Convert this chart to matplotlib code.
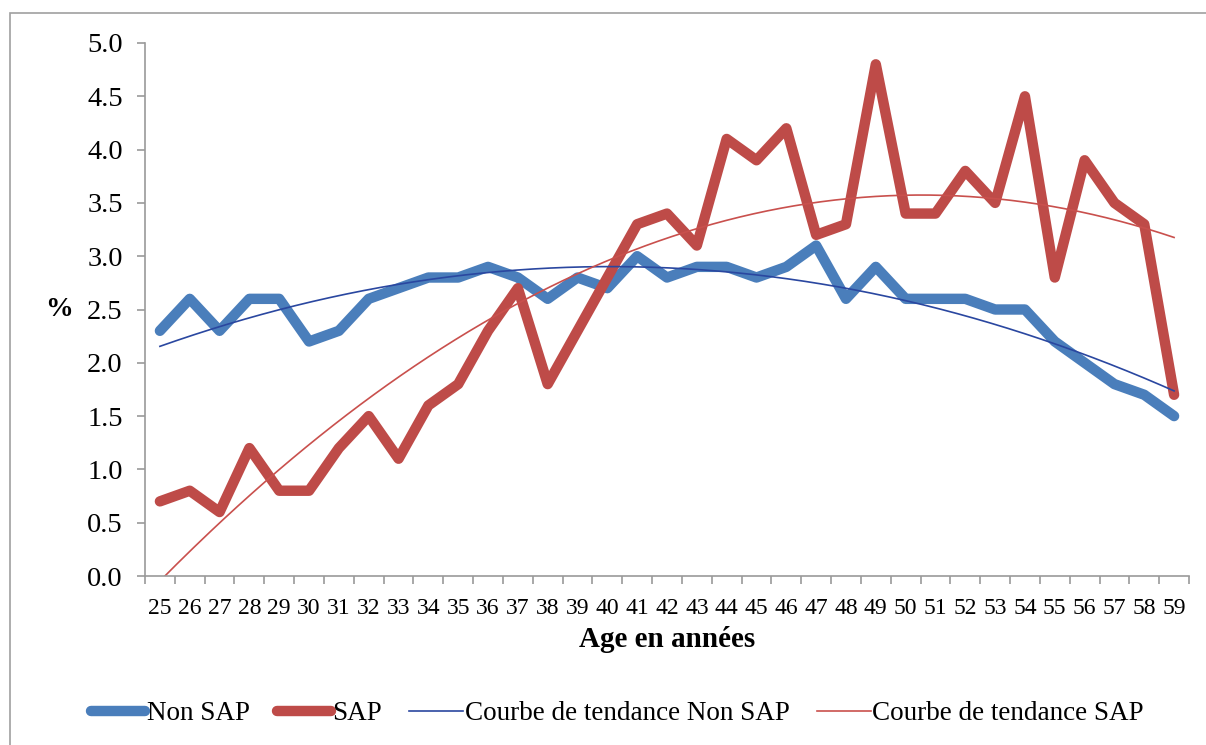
import numpy as np
import matplotlib.pyplot as plt
from matplotlib.patches import Rectangle

ages = list(range(25, 60))
non_sap = [2.3, 2.6, 2.3, 2.6, 2.6, 2.2, 2.3, 2.6, 2.7, 2.8, 2.8, 2.9, 2.8, 2.6, 2.8, 2.7, 3.0, 2.8,
           2.9, 2.9, 2.8, 2.9, 3.1, 2.6, 2.9, 2.6, 2.6, 2.6, 2.5, 2.5, 2.2, 2.0, 1.8, 1.7, 1.5]
sap = [0.7, 0.8, 0.6, 1.2, 0.8, 0.8, 1.2, 1.5, 1.1, 1.6, 1.8, 2.3, 2.7, 1.8, 2.3, 2.8, 3.3, 3.4,
       3.1, 4.1, 3.9, 4.2, 3.2, 3.3, 4.8, 3.4, 3.4, 3.8, 3.5, 4.5, 2.8, 3.9, 3.5, 3.3, 1.7]
y_ticks = [0.0, 0.5, 1.0, 1.5, 2.0, 2.5, 3.0, 3.5, 4.0, 4.5, 5.0]

BLUE = "#4A7EBB"
RED = "#BE4B48"
TREND_BLUE = "#2A47A0"
TREND_RED = "#C9504D"
AXIS_GREY = "#9A9A9A"

plt.rcParams["font.family"] = ["Liberation Serif", "DejaVu Serif"]

fig = plt.figure(figsize=(12.06, 7.45), dpi=100)
fig.patches.append(Rectangle((10 / 1206, -0.1), 1.2, 0.1 + 1 - 13 / 745, transform=fig.transFigure,
                             fill=False, edgecolor="#A0A0A0", linewidth=1.2))
ax = fig.add_axes([145 / 1206, 1 - 576 / 745, 1044 / 1206, 533 / 745])

x = np.arange(len(ages))
xs = np.linspace(0, len(ages) - 1, 300)
# second-order trend lines, as in the spreadsheet
fit_non = np.polyval(np.polyfit(x, non_sap, 2), xs)
fit_sap = np.polyval(np.polyfit(x, sap, 2), xs)

l1, = ax.plot(x, non_sap, color=BLUE, linewidth=7.5, solid_capstyle="round", solid_joinstyle="round")
l2, = ax.plot(x, sap, color=RED, linewidth=7.5, solid_capstyle="round", solid_joinstyle="round")
l3, = ax.plot(xs, fit_non, color=TREND_BLUE, linewidth=1.2)
l4, = ax.plot(xs, fit_sap, color=TREND_RED, linewidth=1.2)

ax.set_xlim(-0.5, len(ages) - 0.5)
ax.set_ylim(0, 5.0)
ax.set_yticks(y_ticks)
ax.set_yticklabels([f"{v:.1f}" for v in y_ticks], fontsize=20.5)
ax.set_xticks(x)
ax.set_xticklabels([str(a) for a in ages], fontsize=17)
ax.set_xticks(np.arange(-0.5, len(ages)), minor=True)
ax.tick_params(axis="x", which="major", length=0, pad=16)
ax.tick_params(axis="x", which="minor", length=6, color=AXIS_GREY, width=1.2)
ax.tick_params(axis="y", length=6, color=AXIS_GREY, width=1.2, pad=10)

for side in ("top", "right"):
    ax.spines[side].set_visible(False)
for side in ("left", "bottom"):
    ax.spines[side].set_color(AXIS_GREY)
    ax.spines[side].set_linewidth(1.2)

ax.set_xlabel("Age en années", fontsize=21, fontweight="bold", labelpad=5)
ax.set_ylabel("%", fontsize=20, fontweight="bold", rotation=0, labelpad=20, va="center")

fig.legend([l1, l2, l3, l4],
           ["Non SAP", "SAP", "Courbe de tendance Non SAP", "Courbe de tendance SAP"],
           loc="center", bbox_to_anchor=(0.512, 1 - 714 / 745), ncol=4, frameon=False,
           fontsize=19.5, handlelength=2.0, handletextpad=0.05, columnspacing=1.0)

fig.savefig("out.png", dpi=100)
